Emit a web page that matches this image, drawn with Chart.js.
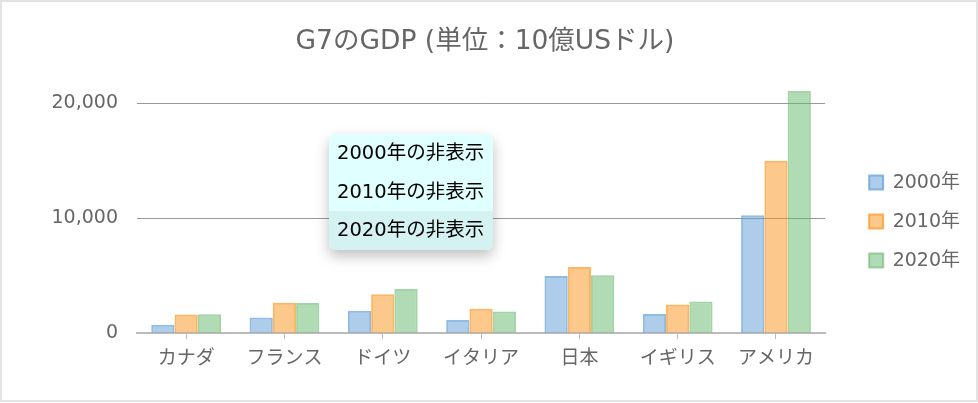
<!DOCTYPE html>
<html><head><meta charset="utf-8">
<script src="https://cdn.jsdelivr.net/npm/chart.js@4"></script>
<style>
html,body{margin:0;padding:0;background:#fff;}
#frame{position:absolute;left:0;top:0;width:974px;height:398px;border:2px solid #e3e3e3;}
#wrap{position:absolute;left:0;top:0;width:978px;height:403px;}
#menu{position:absolute;left:329px;top:134px;width:164px;background:#e0ffff;border-radius:6px;box-shadow:0 6px 14px rgba(0,0,0,0.25);overflow:hidden;font-family:"DejaVu Sans","Noto Sans CJK JP",sans-serif;font-size:19.5px;color:#000;}
#menu div{height:38.7px;line-height:38.7px;padding-left:8px;white-space:nowrap;}
#menu div.hl{background:#d4f2f2;}
</style></head>
<body>
<div id="frame"></div>
<div id="wrap"><canvas id="c" width="978" height="403"></canvas></div>
<div id="menu"></div>
<script>
const categories = ['カナダ','フランス','ドイツ','イタリア','日本','イギリス','アメリカ'];
const seriesNames = ['2000年','2010年','2020年'];
const gdp2000 = [744, 1366, 1947, 1143, 4968, 1665, 10252];
const gdp2010 = [1617, 2645, 3396, 2136, 5759, 2491, 14992];
const gdp2020 = [1645, 2630, 3846, 1897, 5040, 2764, 21060];
const yTicks = [0, 10000, 20000];
const titleText = 'G7のGDP (単位：10億USドル)';
const menuItems = seriesNames.map(s => s + 'の非表示');

const fillColors = ['rgba(91,155,213,0.5)','rgba(251,146,23,0.5)','rgba(100,183,106,0.5)'];
const lineColors = ['rgba(91,155,213,0.68)','rgba(251,146,23,0.68)','rgba(100,183,106,0.6)'];
const values = [gdp2000, gdp2010, gdp2020];
const FONT = '"DejaVu Sans", "Noto Sans CJK JP", sans-serif';

const menu = document.getElementById('menu');
menuItems.forEach((t,i)=>{const d=document.createElement('div');d.textContent=t;if(i===2)d.className='hl';menu.appendChild(d);});

new Chart(document.getElementById('c'), {
  type: 'bar',
  data: {
    labels: categories,
    datasets: seriesNames.map((n,i)=>({
      label: n, data: values[i],
      backgroundColor: fillColors[i], borderColor: lineColors[i], borderWidth: 2,
      categoryPercentage: 0.71, barPercentage: 1.0
    }))
  },
  options: {
    responsive: false, animation: false,
    layout: { padding: { left: 0, right: 8, top: 10, bottom: 25 } },
    plugins: {
      title: { display: true, text: titleText, color: '#666', font: { family: FONT, size: 26.5, weight: 'normal' }, padding: { top: 16, bottom: 22.5 } },
      legend: { position: 'right', title: { display: true, text: ' ', font: { size: 1 }, padding: 27 },
        labels: { color: '#666', font: { family: FONT, size: 19 }, boxWidth: 14, boxHeight: 14, padding: 20 } },
      tooltip: { enabled: false }
    },
    scales: {
      x: {
        grid: { drawOnChartArea: false, offset: false, drawTicks: true, tickLength: 6, color: '#bbb' },
        border: { color: '#bbb', width: 2 },
        ticks: { color: '#666', font: { family: FONT, size: 19 }, padding: 8 }
      },
      y: {
        min: 0, max: 22000,
        afterFit: ax => { ax.width = 137; },
        afterBuildTicks: ax => { ax.ticks = yTicks.map(v => ({ value: v })); },
        grid: { drawTicks: false, color: ctx => ctx.tick && ctx.tick.value === 0 ? 'rgba(0,0,0,0)' : '#999' },
        border: { display: false },
        ticks: { color: '#666', font: { family: FONT, size: 19 }, padding: 19 }
      },
      gap: {
        position: 'right', display: true,
        afterFit: ax => { ax.width = 24; },
        grid: { display: false, drawTicks: false }, border: { display: false },
        ticks: { display: false }
      }
    }
  }
});
</script>
</body></html>
